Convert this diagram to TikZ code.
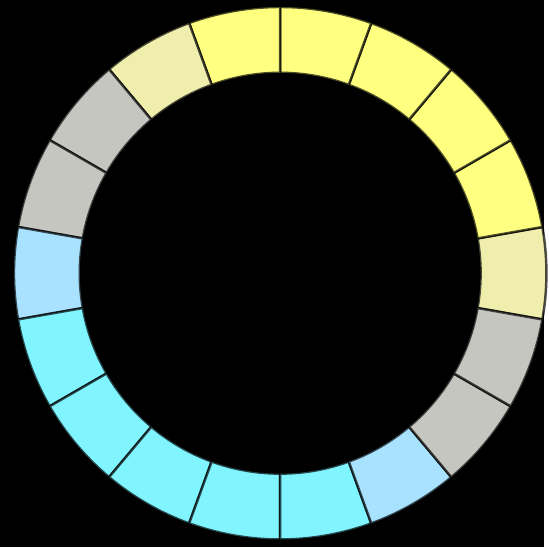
\documentclass[tikz,border=0pt]{standalone}
\definecolor{ringyellow}{RGB}{255,255,128}
\definecolor{ringpale}{RGB}{240,238,172}
\definecolor{ringgrey}{RGB}{198,198,192}
\definecolor{ringblue}{RGB}{168,226,255}
\definecolor{ringcyan}{RGB}{128,244,255}
\begin{document}
\begin{tikzpicture}[
        x=0.02cm, y=0.02cm,
        sector/.style={draw=black, draw opacity=0.7, line width=1.4pt, line join=round}
    ]
        % black background, fixes the margins
        \fill[black] (-281,-275) rectangle (265,274);

        % 18 sectors of 20 degrees
        \foreach \a/\col [evaluate=\a as \b using \a+20] in {
            -10/ringpale, 10/ringyellow, 30/ringyellow, 50/ringyellow,
            70/ringyellow, 90/ringyellow, 110/ringpale, 130/ringgrey,
            150/ringgrey, 170/ringblue, 190/ringcyan, 210/ringcyan,
            230/ringcyan, 250/ringcyan, 270/ringcyan, 290/ringblue,
            310/ringgrey, 330/ringgrey}
            \filldraw[sector, fill=\col] (\a:201) -- (\a:267)
                arc[start angle=\a, end angle=\b, radius=267]
                -- (\b:201)
                arc[start angle=\b, end angle=\a, radius=201] -- cycle;
    \end{tikzpicture}
\end{document}
